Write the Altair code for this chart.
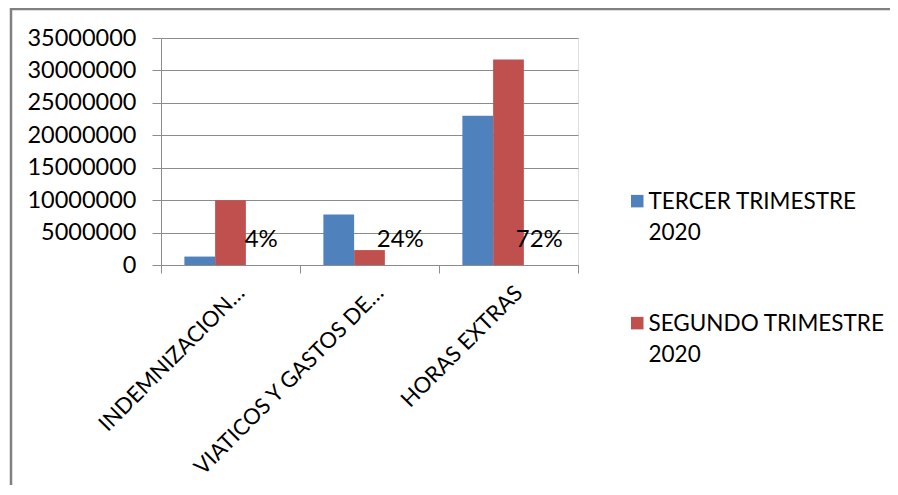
import altair as alt
import pandas as pd

categories = ["INDEMNIZACION…", "VIATICOS Y GASTOS DE…", "HORAS EXTRAS"]
series_names = ["TERCER TRIMESTRE 2020", "SEGUNDO TRIMESTRE 2020"]
tercer = [1300000, 7800000, 23000000]
segundo = [10000000, 2300000, 31700000]
pct_labels = ["4%", "24%", "72%"]
colors = ["#4F81BD", "#C0504D"]
y_ticks = [0, 5000000, 10000000, 15000000, 20000000, 25000000, 30000000, 35000000]

offset_order = series_names + ["pct"]

rows = []
for c, t, s in zip(categories, tercer, segundo):
    rows.append({"cat": c, "series": series_names[0], "value": t})
    rows.append({"cat": c, "series": series_names[1], "value": s})
bars_df = pd.DataFrame(rows)
pct_df = pd.DataFrame({"cat": categories, "series": ["pct"] * 3, "value": [0] * 3, "label": pct_labels})

FONT = "Lato"
GRAY = "#8c8c8c"

x_enc = alt.X(
    "cat:N",
    sort=categories,
    scale=alt.Scale(paddingInner=0, paddingOuter=0),
    axis=alt.Axis(
        title=None, labelAngle=-45, labelAlign="right", labelBaseline="middle",
        tickBand="extent", grid=False, domainColor=GRAY, tickColor=GRAY,
        tickSize=8, labelFontSize=22, labelFont=FONT, labelColor="black",
        labelPadding=16, labelOffset=10, labelLimit=400, labelOverlap=False,
    ),
)
xoff = alt.XOffset(
    "series:N", sort=offset_order,
    scale=alt.Scale(domain=offset_order, paddingOuter=0.76, paddingInner=0),
)
y_enc = alt.Y(
    "value:Q",
    scale=alt.Scale(domain=[0, 35000000], nice=False),
    axis=alt.Axis(
        title=None, values=y_ticks, format="d", grid=True, gridColor=GRAY,
        domainColor=GRAY, tickColor=GRAY, tickSize=9, labelFontSize=23.5,
        labelFont=FONT, labelColor="black", labelPadding=16,
        labelOverlap=False, labelFlush=False,
    ),
)

bars = alt.Chart(bars_df).mark_bar().encode(
    x=x_enc,
    xOffset=xoff,
    y=y_enc,
    color=alt.Color(
        "series:N", sort=series_names,
        scale=alt.Scale(domain=series_names, range=colors),
        legend=alt.Legend(
            title=None, orient="none", legendX=465, legendY=160,
            symbolType="M-1,-2.3H1V-0.3H-1Z", symbolSize=156, symbolStrokeWidth=0,
            labelFontSize=22.5, labelFont=FONT, labelColor="black",
            labelBaseline="alphabetic", rowPadding=68, labelOffset=0,
            labelLimit=400,
            labelExpr="[replace(datum.label, ' 2020', ''), '2020']",
        ),
    ),
)

texts = alt.Chart(pct_df).mark_text(
    fontSize=24, font=FONT, color="black", baseline="middle", dy=-25
).encode(
    x=x_enc,
    xOffset=xoff,
    y=y_enc,
    text="label:N",
)

frame = alt.Chart(pd.DataFrame({"a": [0]})).mark_rect(
    fill=None, stroke="#808080", strokeWidth=2.5
).encode(
    x=alt.value(-150), x2=alt.value(900), y=alt.value(-29), y2=alt.value(480)
)

chart = alt.layer(frame, bars, texts).properties(
    width=417, height=227,
    autosize=alt.AutoSizeParams(type="none"),
    padding={"left": 153, "top": 30, "right": 312, "bottom": 220},
    background="white",
).configure_view(stroke=None).configure(
    style={"guide-label": {"lineHeight": 31}}
)

chart.save("out.html", embed_options={"renderer": "svg", "actions": False})
